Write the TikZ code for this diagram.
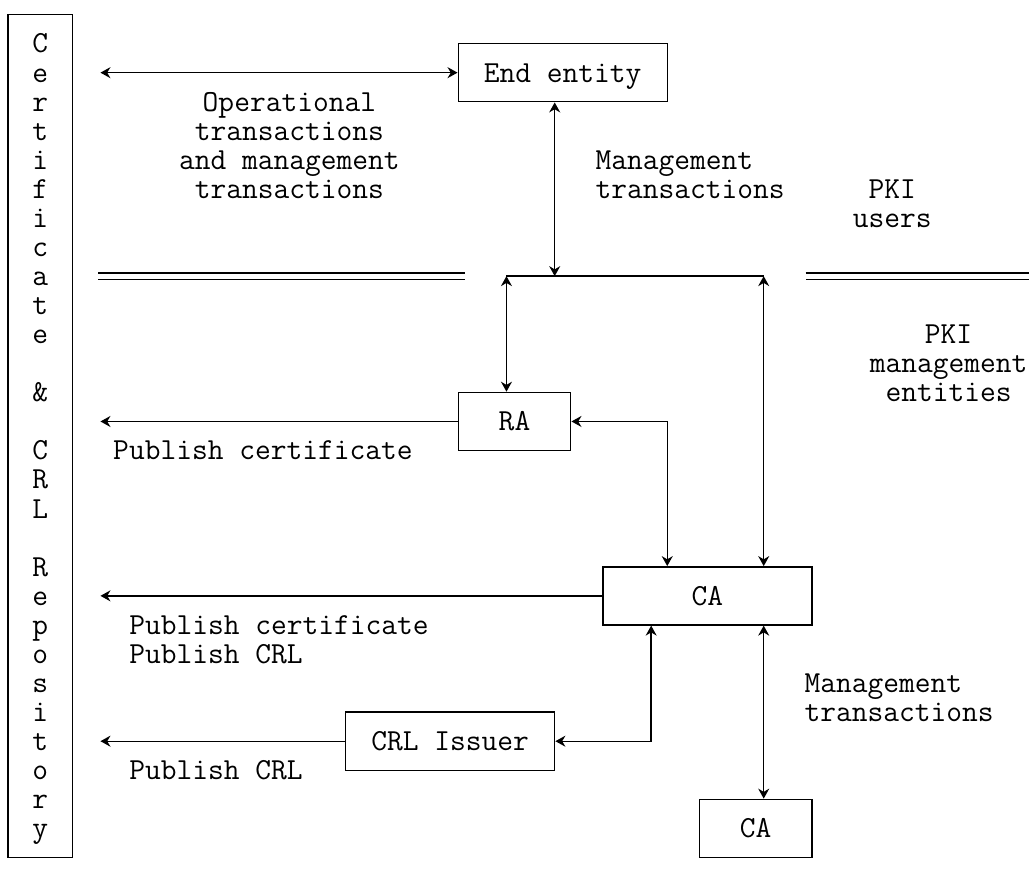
\documentclass[tikz,border=0pt]{standalone}
\usetikzlibrary{positioning,arrows.meta}

\begin{document}
\begin{tikzpicture}[>={Stealth[length=5pt,width=5.5pt]},line width=0.7pt,x=8.04pt,y=-14.535pt,
  every node/.style={font=\fontsize{15.3}{14.535}\selectfont\ttfamily, inner sep=0pt},
  entity/.style={draw, minimum height=29.07pt, text height=9.4pt, text depth=0pt},
  wide entity/.style={entity, minimum width=104.52pt},
  small entity/.style={entity, minimum width=56.28pt},
  glyph/.style={text height=9.4pt, text depth=0pt},
  publish/.style={->, shorten >=13.7pt},
  divider/.style={double, double distance=2.4pt}]

    \useasboundingbox (-0.5,-0.5) rectangle (63.5,29.5);

    % repository column
    \node[draw, minimum width=32.16pt, minimum height=421.5pt] (repo) at (2,14.5) {};
    \foreach \ch [count=\r] in {C,e,r,t,i,f,i,c,a,t,e,{},\&,{},C,R,L,{},R,e,p,o,s,i,t,o,r,y}
        \node[glyph] (letter\r) at (2,\r) {\ch};

    % entities
    \node[wide entity] (ee) at (34.5,2) {End entity};
    \node[small entity] (ra) at (31.5,14) {RA};
    \node[wide entity] (ca) at (43.5,20) {CA};
    \node[wide entity] (crl) at (27.5,25) {CRL Issuer};
    \node[small entity] (ca2) at (46.5,28) {CA};

    % texts
    \node[align=center] (optx) at (17.5,4.5) {Operational\\transactions\\and management\\transactions};
    \node[align=left, anchor=west] (eetx) at (36.5,5.5) {Management\\transactions};
    \node[align=center] (users) at (55,6.5) {PKI\\users};
    \node[align=center] (mgmt) at (58.5,12) {PKI\\management\\entities};
    \node[anchor=west] (pubra) at (6.5,15) {Publish certificate};
    \node[align=left, anchor=west] (pubca) at (7.5,21.5) {Publish certificate\\Publish CRL};
    \node[align=left, anchor=west] (catx) at (49.5,23.5) {Management\\transactions};
    \node[anchor=west] (pubcrl) at (7.5,26) {Publish CRL};

    % bus and dividers
    \coordinate (busL) at (31,9);
    \coordinate (busM) at (34,9);
    \coordinate (busR) at (47,9);
    \coordinate (divA) at (5.6,9);
    \coordinate (divB) at (28.4,9);
    \coordinate (divC) at (49.6,9);
    \coordinate (divD) at (63.5,9);
    \draw (busL) -- (busR);
    \draw[divider] (divA) -- (divB);
    \draw[divider] (divC) -- (divD);

    % transactions
    \draw[<->, shorten <=13.7pt] (ee.west -| repo.east) -- (ee.west);
    \draw[<->] (busM |- ee.south) -- (busM);
    \draw[<->] (busL) -- (busL |- ra.north);
    \draw[<->] (busR) -- (busR |- ca.north);
    \coordinate (raca) at (41,14);
    \draw[<->] (ra.east) -- (raca) -- (raca |- ca.north);
    \coordinate (crlca) at (40,25);
    \draw[<->] (crl.east) -- (crlca) -- (crlca |- ca.south);
    \draw[<->] (busR |- ca.south) -- (busR |- ca2.north);

    % publishing
    \draw[publish] (ra.west) -- (ra.west -| repo.east);
    \draw[publish] (ca.west) -- (ca.west -| repo.east);
    \draw[publish] (crl.west) -- (crl.west -| repo.east);
\end{tikzpicture}
\end{document}
